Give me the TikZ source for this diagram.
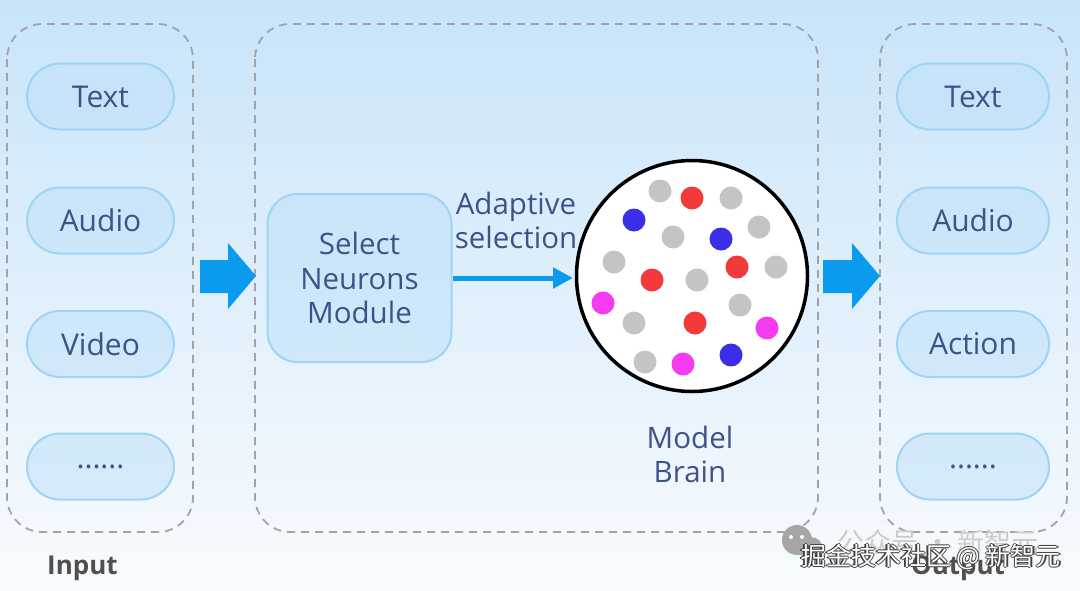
\documentclass[tikz,border=0pt]{standalone}
\usepackage{fontspec}
\setmainfont{Open Sans}
\newfontfamily\cjk{Noto Sans CJK SC}
\usetikzlibrary{arrows.meta}
\definecolor{txt}{HTML}{3F5288}
\definecolor{dashgray}{HTML}{A0A4A8}
\definecolor{pillfill}{HTML}{BFE0F9}
\definecolor{pilldraw}{HTML}{9ED4F6}
\definecolor{arrowblue}{HTML}{0A9BEF}
\definecolor{bgtop}{HTML}{C8E4FA}
\definecolor{bgmid}{HTML}{E8F4FC}
\definecolor{bgbot}{HTML}{F8FBFD}
\definecolor{dotgray}{HTML}{C4C4C4}
\definecolor{dotred}{HTML}{F23A3A}
\definecolor{dotblue}{HTML}{3A2EE8}
\definecolor{dotmag}{HTML}{F53BF0}
\definecolor{labgray}{HTML}{505050}
\tikzset{
  groupbox/.style={draw=dashgray, line width=1.8pt, dash pattern=on 8pt off 6pt, rounded corners=35pt},
  pill/.style={draw=pilldraw, line width=2pt, fill=pillfill, fill opacity=0.55, text opacity=1,
     minimum width=147pt, minimum height=66pt, rounded corners=33pt, inner sep=0pt,
     font=\fontsize{30}{34}\selectfont, text=txt},
  modbox/.style={draw=pilldraw, line width=2pt, fill=pillfill, fill opacity=0.55, text opacity=1,
     minimum width=184pt, minimum height=168pt, rounded corners=30pt, inner sep=0pt,
     align=center, font=\fontsize{29.5}{34.5}\selectfont, text=txt},
  lbl/.style={align=center, inner sep=0pt, font=\fontsize{29.5}{34}\selectfont, text=txt},
  grouplabel/.style={inner sep=0pt, font=\fontsize{26}{30}\selectfont\bfseries, text=labgray},
  bigarrow/.style={fill=arrowblue},
}
\begin{document}
\begin{tikzpicture}[x=1pt,y=-1pt]
\useasboundingbox (0,0) rectangle (1080,590);
\shade[top color=bgtop, middle color=bgmid, bottom color=bgbot] (0,0) rectangle (1080,590);

% group boxes
\draw[groupbox] (7,24) rectangle (193,532);
\draw[groupbox] (255,24) rectangle (818,532);
\draw[groupbox] (880,24) rectangle (1067,532);

% input pills
\node[pill] (in1) at (100.5,96.5) {Text};
\node[pill] (in2) at (100.5,220.5) {Audio};
\node[pill] (in3) at (100.5,344) {Video};
\node[pill] (in4) at (100.5,466.5) {......};

% output pills
\node[pill, minimum width=152pt] (out1) at (973,96.5) {Text};
\node[pill, minimum width=152pt] (out2) at (973,220.5) {Audio};
\node[pill, minimum width=152pt] (out3) at (973,344) {Action};
\node[pill, minimum width=152pt] (out4) at (973,466.5) {......};

% big arrows
\fill[bigarrow] (200,260) -- (228,260) -- (228,243) -- (256,276) -- (228,309) -- (228,293) -- (200,293) -- cycle;
\fill[bigarrow] (823,260) -- (852,260) -- (852,243) -- (880,276) -- (852,309) -- (852,293) -- (823,293) -- cycle;

% module
\node[modbox] (sel) at (359.5,278) {Select\\Neurons\\Module};

% brain
\node[circle, draw=black, line width=3.5pt, fill=white, minimum size=231pt, inner sep=0pt] (brain) at (692,276) {};
\foreach \x/\y/\c in {660/191/dotgray, 692/198/dotred, 731/198/dotgray, 634/220/dotblue,
  673/237/dotgray, 721/239/dotblue, 759/227/dotgray, 614/262/dotgray, 652/280/dotred,
  697/280/dotgray, 737/267/dotred, 776/267/dotgray, 603/303/dotmag, 634/323/dotgray,
  695/323/dotred, 740/305/dotgray, 767/328/dotmag, 645/362/dotgray, 683/364/dotmag, 731/355/dotblue}
  \fill[\c] (\x,\y) circle (11.5pt);

% adaptive selection arrow
\coordinate (tip) at (573,278);
\draw[arrowblue, line width=5pt, -{Triangle[length=20pt,width=20pt]}] (sel.east) -- (tip);
\node[lbl] (adapt) at (516,220) {Adaptive\\selection};
\node[lbl] (mb) at (690,454) {Model\\Brain};

% group labels
\node[grouplabel] (inl) at (82.5,568) {Input};
\node[grouplabel] (outl) at (958,568) {Output};

% watermark
\fill[gray!70] (797,540) circle (15pt);
\fill[gray!70] (811,549) circle (12pt);
\fill[white] (791,537) circle (2pt);
\fill[white] (802,537) circle (2pt);
\node[inner sep=0pt, font=\cjk\fontsize{27}{30}\selectfont, text=gray!40] (wm1) at (938,542) {公众号 · 新智元};
\foreach \dx/\dy in {-1.2/0,1.2/0,0/-1.2,0/1.2}
  \node[inner sep=0pt, font=\cjk\fontsize{25}{28}\selectfont, text=black!75] at (931+\dx,557+\dy) {掘金技术社区 @ 新智元};
\node[inner sep=0pt, font=\cjk\fontsize{25}{28}\selectfont, text=white] (wm2) at (931,557) {掘金技术社区 @ 新智元};
\end{tikzpicture}
\end{document}
